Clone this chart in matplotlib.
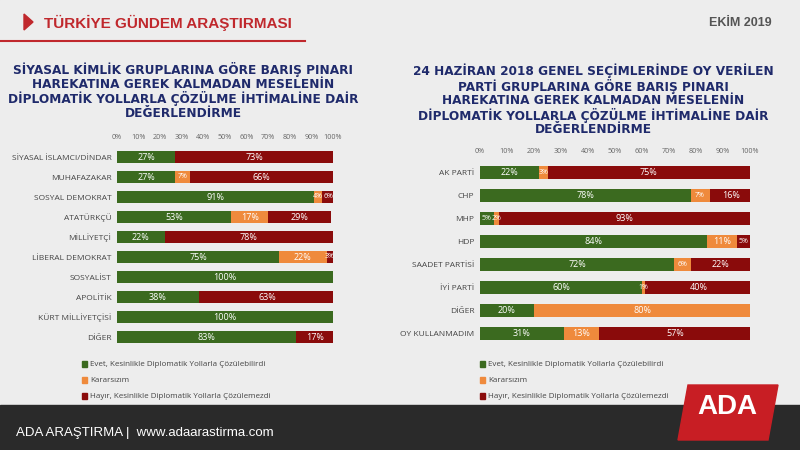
import matplotlib
matplotlib.use("Agg")
import matplotlib.pyplot as plt
from matplotlib.patches import Polygon, Rectangle

left_cats = ["SİYASAL İSLAMCI/DİNDAR", "MUHAFAZAKAR", "SOSYAL DEMOKRAT", "ATATÜRKÇÜ", "MİLLİYETÇİ",
             "LİBERAL DEMOKRAT", "SOSYALİST", "APOLİTİK", "KÜRT MİLLİYETÇİSİ", "DİĞER"]
left_evet = [27, 27, 91, 53, 22, 75, 100, 38, 100, 83]
left_kar = [0, 7, 4, 17, 0, 22, 0, 0, 0, 0]
left_hayir = [73, 66, 6, 29, 78, 3, 0, 63, 0, 17]

right_cats = ["AK PARTİ", "CHP", "MHP", "HDP", "SAADET PARTİSİ", "İYİ PARTİ", "DİĞER", "OY KULLANMADIM"]
right_evet = [22, 78, 5, 84, 72, 60, 20, 31]
right_kar = [3, 7, 2, 11, 6, 1, 80, 13]
right_hayir = [75, 16, 93, 5, 22, 40, 0, 57]

ticks = [0, 10, 20, 30, 40, 50, 60, 70, 80, 90, 100]
series_names = ["Evet, Kesinlikle Diplomatik Yollarla Çözülebilirdi", "Kararsızım",
                "Hayır, Kesinlikle Diplomatik Yollarla Çözülemezdi"]
colors = ["#3b6a1f", "#ef8a3c", "#8a0b0b"]
navy = "#1f2a6b"
FONT = "Open Sans"

fig = plt.figure(figsize=(8, 4.5), dpi=100)
fig.patch.set_facecolor("#ececec")

def px(x0, y0, w, h):
    return [x0 / 800, 1 - (y0 + h) / 450, w / 800, h / 450]

hdr = fig.add_axes([0, 0, 1, 1], zorder=-1)
hdr.set_xlim(0, 800); hdr.set_ylim(450, 0); hdr.axis("off")
hdr.add_patch(Rectangle((0, 0), 800, 450, color="#ededed"))
hdr.add_patch(Polygon([[24, 14], [24, 30], [33, 22]], color="#c0282d"))
hdr.plot([0, 305], [41, 41], color="#c0282d", lw=1.5)
hdr.text(44, 23, "TÜRKİYE GÜNDEM ARAŞTIRMASI", color="#c0282d", fontsize=11, fontweight="bold",
         va="center", family="Liberation Sans")
hdr.text(772, 23, "EKİM 2019", color="#555555", fontsize=9, fontweight="bold", va="center",
         ha="right", family="Liberation Sans")
hdr.add_patch(Rectangle((0, 405), 800, 45, color="#2a2a2a"))
hdr.text(16, 433, "ADA ARAŞTIRMA |  www.adaarastirma.com", color="white", fontsize=9.5,
         va="center", family="Liberation Sans")
hdr.add_patch(Polygon([[688, 385], [778, 385], [768, 440], [678, 440]], color="#c81e24"))
hdr.text(727, 407, "ADA", color="white", fontsize=20, fontweight="bold", ha="center",
         va="center", family="Liberation Sans")

hdr.text(183, 91, "SİYASAL KİMLİK GRUPLARINA GÖRE BARIŞ PINARI\nHAREKATINA GEREK KALMADAN MESELENİN\n"
         "DİPLOMATİK YOLLARLA ÇÖZÜLME İHTİMALİNE DAİR\nDEĞERLENDİRME",
         ha="center", va="center", fontsize=8.7, fontweight="heavy", color=navy, family="DejaVu Sans",
         linespacing=1.05)
hdr.text(593, 100, "24 HAZİRAN 2018 GENEL SEÇİMLERİNDE OY VERİLEN\nPARTİ GRUPLARINA GÖRE BARIŞ PINARI\n"
         "HAREKATINA GEREK KALMADAN MESELENİN\nDİPLOMATİK YOLLARLA ÇÖZÜLME İHTİMALİNE DAİR\nDEĞERLENDİRME",
         ha="center", va="center", fontsize=8.7, fontweight="heavy", color=navy, family="DejaVu Sans",
         linespacing=1.05)

def legend(x, y):
    for i, (n, c) in enumerate(zip(series_names, colors)):
        yy = y + i * 16
        hdr.add_patch(Rectangle((x, yy - 3), 5, 6, color=c))
        hdr.text(x + 8, yy, n, fontsize=5.8, va="center", color="#444444", family=FONT)

legend(82, 364)
legend(480, 364)

def stack(ax, cats, ev, ka, ha, hgt, lab_fs):
    n = len(cats)
    y = list(range(n))
    lefts = [0] * n
    for vals, c in zip([ev, ka, ha], colors):
        ax.barh(y, vals, left=lefts, height=hgt, color=c)
        for i, v in enumerate(vals):
            if v > 0:
                ax.text(lefts[i] + v / 2, i, f"{v}%", ha="center", va="center",
                        color="white", fontsize=lab_fs if v >= 8 else lab_fs - 1.5, family=FONT)
        lefts = [a + b for a, b in zip(lefts, vals)]
    ax.set_ylim(n - 0.5, -0.5)
    ax.set_xlim(0, 100)
    ax.set_yticks(y)
    ax.set_yticklabels(cats, fontsize=6, color="#444444", family=FONT)
    ax.set_xticks(ticks)
    ax.set_xticklabels([f"{t}%" for t in ticks], fontsize=5.2, color="#666666", family=FONT)
    ax.xaxis.tick_top()
    ax.tick_params(length=0, pad=4)
    ax.patch.set_alpha(0)
    for s in ax.spines.values():
        s.set_visible(False)

axl = fig.add_axes(px(117, 147, 216, 200))
stack(axl, left_cats, left_evet, left_kar, left_hayir, 0.6, 6.5)
axr = fig.add_axes(px(480, 161, 270, 184))
stack(axr, right_cats, right_evet, right_kar, right_hayir, 0.55, 6.5)

fig.savefig("out.png", dpi=100, facecolor=fig.get_facecolor())
